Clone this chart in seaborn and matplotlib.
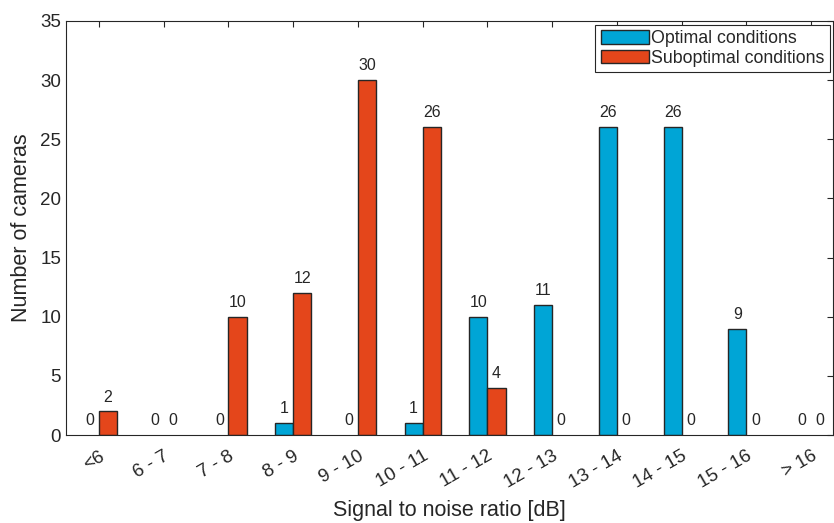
import matplotlib
matplotlib.use("Agg")
import matplotlib.pyplot as plt
import pandas as pd
import seaborn as sns

categories = ["<6", "6 - 7", "7 - 8", "8 - 9", "9 - 10", "10 - 11", "11 - 12",
              "12 - 13", "13 - 14", "14 - 15", "15 - 16", "> 16"]
optimal = [0, 0, 0, 1, 0, 1, 10, 11, 26, 26, 9, 0]
suboptimal = [2, 0, 10, 12, 30, 26, 4, 0, 0, 0, 0, 0]
series_names = ["Optimal conditions", "Suboptimal conditions"]

sns.set_theme(style="white")
plt.rcParams["font.family"] = ["Liberation Sans", "DejaVu Sans"]

df = pd.DataFrame({
    "category": categories * 2,
    "count": optimal + suboptimal,
    "series": [series_names[0]] * len(categories) + [series_names[1]] * len(categories),
})

fig = plt.figure(figsize=(8.34, 5.23), dpi=100)
ax = fig.add_axes([0.079, 0.168, 0.92, 0.792])

sns.barplot(
    data=df, x="category", y="count", hue="series",
    palette=["#00A5D6", "#E4461B"], width=0.56, gap=0,
    edgecolor="#262626", linewidth=1.0, saturation=1, ax=ax,
)

# hide outlines of empty bars
for cont in ax.containers:
    for bar in cont:
        if bar.get_height() == 0:
            bar.set_linewidth(0)
    ax.bar_label(cont, fmt="%d", padding=5, fontsize=11.5, color="#262626")

ax.set_ylim(0, 35)
ax.set_xlim(-0.51, 11.34)
ax.set_yticks(range(0, 36, 5))
ax.set_xlabel("Signal to noise ratio [dB]", fontsize=15.5, color="#262626", labelpad=6)
ax.set_ylabel("Number of cameras", fontsize=15.5, color="#262626", labelpad=6)
plt.setp(ax.get_xticklabels(), rotation=30, ha="right", rotation_mode="anchor")
ax.tick_params(axis="both", direction="in", length=4, width=0.8, colors="#262626",
               labelsize=13.5, top=True, right=True)
ax.tick_params(axis="x", pad=9)
for sp in ax.spines.values():
    sp.set_visible(True)
    sp.set_color("#262626")
    sp.set_linewidth(0.8)

ax.legend(loc="upper right", bbox_to_anchor=(0.996, 0.99), fontsize=12.8,
          frameon=True, fancybox=False, edgecolor="#262626", framealpha=1,
          handlelength=2.7, handleheight=0.8, handletextpad=0.15,
          borderpad=0.3, labelspacing=0.12, borderaxespad=0)
ax.get_legend().get_frame().set_linewidth(0.8)

fig.savefig("out.png", dpi=100)
